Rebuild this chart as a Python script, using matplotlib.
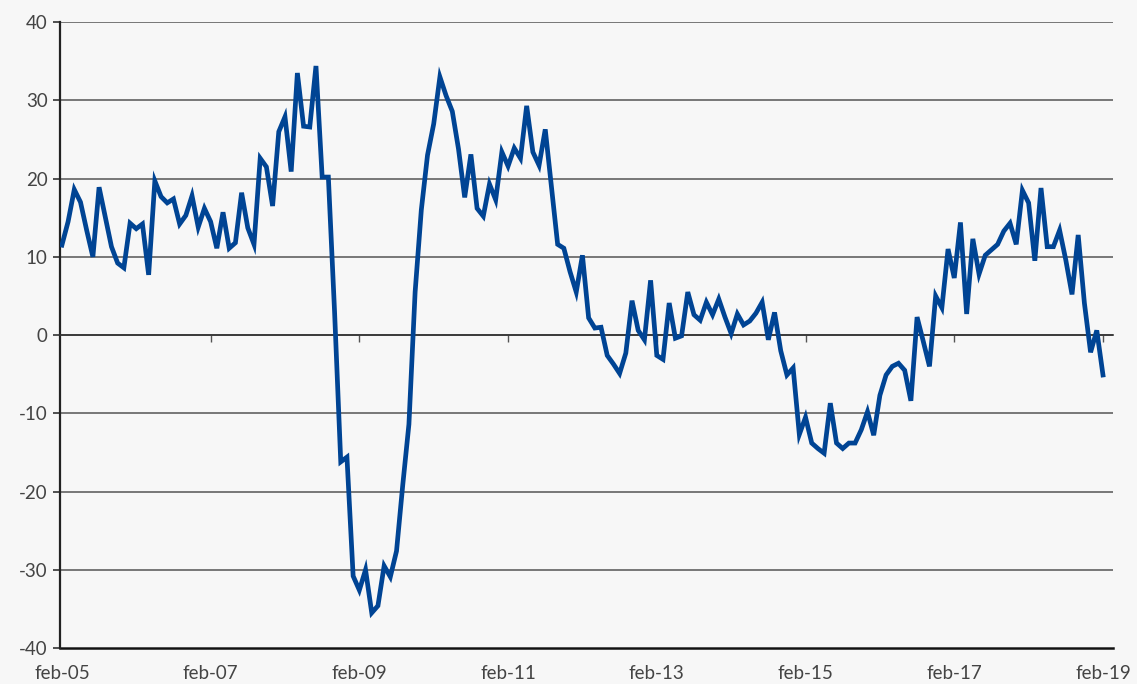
import numpy as np
import matplotlib
matplotlib.use('Agg')
import matplotlib.pyplot as plt

# monthly values, feb-05 .. feb-19
values = [
    11.5, 14.5, 18.6, 17.0, 13.4, 10.0, 18.9, 15.1, 11.3, 9.2,
    8.6, 14.3, 13.6, 14.2, 7.7, 19.7, 17.7, 16.9, 17.4, 14.2,
    15.3, 17.8, 13.8, 16.2, 14.5, 11.1, 15.7, 11.1, 11.8, 18.2,
    13.7, 11.6, 22.6, 21.5, 16.5, 26.0, 27.9, 20.9, 33.5, 26.7,
    26.6, 34.4, 20.2, 20.2, 3.0, -16.2, -15.6, -30.8, -32.6, -30.0,
    -35.5, -34.6, -29.5, -30.9, -27.6, -19.2, -11.4, 5.5, 16.0, 23.0,
    27.0, 33.0, 30.6, 28.6, 23.8, 17.6, 23.1, 16.2, 15.2, 19.3,
    17.3, 23.4, 21.6, 23.9, 22.6, 29.3, 23.4, 21.7, 26.3, 18.9,
    11.6, 11.1, 8.1, 5.5, 10.2, 2.2, 0.9, 1.0, -2.6, -3.7,
    -4.9, -2.3, 4.4, 0.6, -0.6, 7.0, -2.6, -3.1, 4.1, -0.4,
    -0.1, 5.5, 2.6, 1.9, 4.2, 2.6, 4.6, 2.3, 0.2, 2.7,
    1.3, 1.8, 2.8, 4.2, -0.6, 2.9, -2.0, -5.1, -4.2, -12.7,
    -10.5, -13.8, -14.5, -15.1, -8.7, -13.8, -14.5, -13.8, -13.8, -12.1,
    -9.8, -12.8, -7.7, -5.1, -4.0, -3.6, -4.5, -8.4, 2.3, -0.8,
    -4.0, 5.0, 3.5, 11.0, 7.3, 14.4, 2.7, 12.3, 7.8, 10.2,
    10.9, 11.6, 13.3, 14.3, 11.6, 18.5, 16.9, 9.5, 18.8, 11.3,
    11.3, 13.4, 9.6, 5.2, 12.8, 4.1, -2.2, 0.6, -5.1,
]
tick_labels = ['feb-05', 'feb-07', 'feb-09', 'feb-11', 'feb-13', 'feb-15', 'feb-17', 'feb-19']
y_ticks = [40, 30, 20, 10, 0, -10, -20, -30, -40]

bg = '#f7f7f7'
txt = '#444444'
plt.rcParams['font.family'] = ['Lato', 'DejaVu Sans']

fig = plt.figure(figsize=(11.37, 6.84), dpi=100, facecolor=bg)
ax = fig.add_axes([0.0528, 0.0526, 0.926, 0.915], facecolor=bg)

x = np.arange(len(values))
ax.plot(x, values, color='#004494', lw=3.4, solid_joinstyle='miter', zorder=3)

ax.set_ylim(-40, 40)
ax.set_xlim(-0.3, 169.6)
ax.set_yticks(y_ticks)
ax.set_yticklabels([str(v) for v in y_ticks])
ax.yaxis.grid(True, color='#555555', lw=1.1)
ax.set_axisbelow(True)
ax.tick_params(axis='y', length=5, width=1.2, color='#333333', pad=4,
               labelsize=13.5, labelcolor=txt)

for s in ['top', 'right']:
    ax.spines[s].set_visible(False)
ax.spines['left'].set_color('#222222')
ax.spines['left'].set_linewidth(1.6)

# category axis crosses at zero, labels stay at the bottom
tick_pos = np.arange(0, len(values), 24)
ax.spines['bottom'].set_position(('data', 0))
ax.spines['bottom'].set_color('#333333')
ax.spines['bottom'].set_linewidth(1.2)
ax.set_xticks(tick_pos[1:])
ax.tick_params(axis='x', direction='out', length=5, width=1, color='#555555',
               labelbottom=False)

sec = ax.secondary_xaxis(0)
sec.set_xticks(tick_pos)
sec.set_xticklabels(tick_labels)
sec.tick_params(length=0, pad=12, labelsize=13.5, labelcolor=txt)
sec.spines['bottom'].set_color('#111111')
sec.spines['bottom'].set_linewidth(1.8)

fig.savefig('out.png', dpi=100, facecolor=bg)
